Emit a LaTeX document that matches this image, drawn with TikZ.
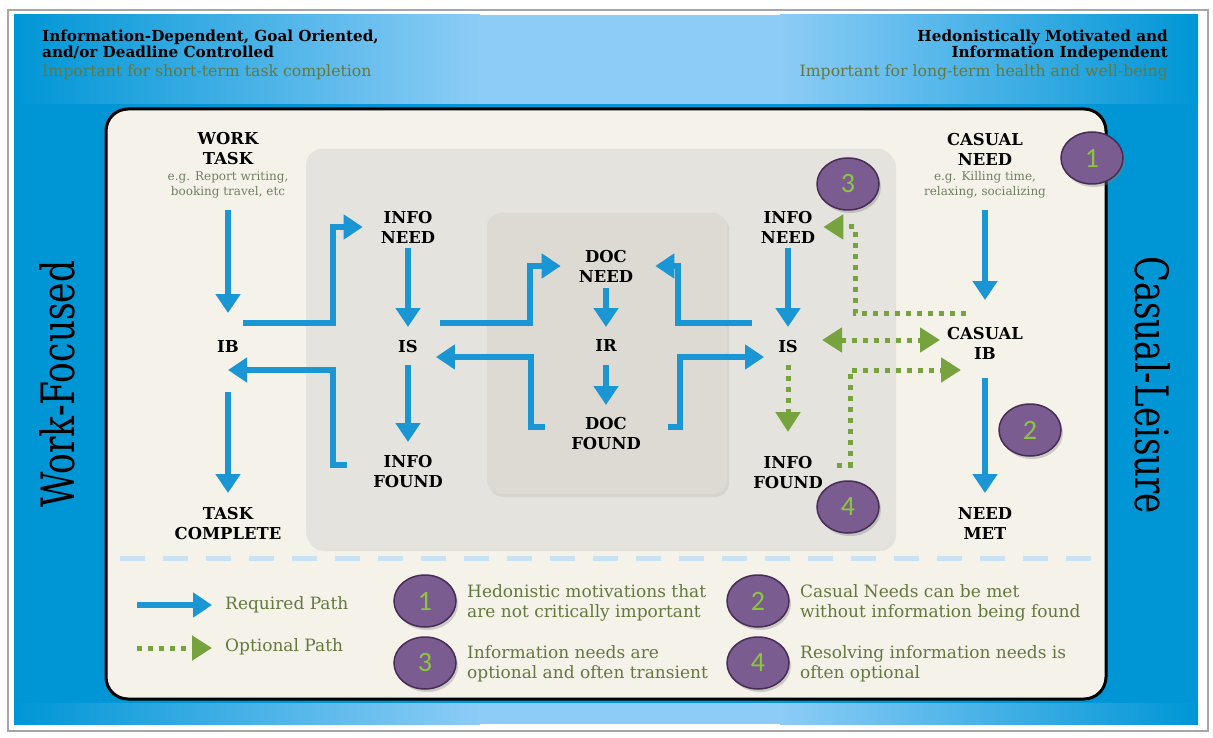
\documentclass[tikz,border=0pt]{standalone}
\usepackage{fontspec}
\setmainfont{DejaVu Serif}
\newfontfamily\digitfont{Carlito}
\usetikzlibrary{arrows.meta, shapes.geometric, shadows}
\definecolor{bandblue}{RGB}{0,150,214}
\definecolor{bandlight}{RGB}{140,204,246}
\definecolor{cream}{RGB}{245,242,234}
\definecolor{panelgray}{RGB}{229,227,221}
\definecolor{innergray}{RGB}{220,218,211}
\definecolor{reqblue}{RGB}{27,150,212}
\definecolor{optgreen}{RGB}{118,163,62}
\definecolor{keygreen}{RGB}{100,120,62}
\definecolor{egtext}{RGB}{110,128,96}
\definecolor{badgefill}{RGB}{123,92,145}
\definecolor{badgeedge}{RGB}{70,45,85}
\definecolor{digitgreen}{RGB}{140,198,63}
\definecolor{dashblue}{RGB}{200,225,243}
\tikzset{
  reqtip/.tip={Triangle[length=19pt,width=24pt]},
  optip/.tip={Triangle[length=20pt,width=24pt]},
  lbl/.style={font=\bfseries\fontsize{16.4}{20}\selectfont, align=center, inner sep=0pt},
  eg/.style={font=\fontsize{12}{15}\selectfont, text=egtext, align=center, inner sep=0pt},
  req/.style={draw=reqblue, line width=6pt, line join=miter, -reqtip},
  opt/.style={draw=optgreen, line width=5pt, dash pattern=on 5pt off 6pt, line join=miter, -optip},
  badge/.style={ellipse, fill=badgefill, draw=badgeedge, line width=1.5pt, minimum width=62pt,
    minimum height=52pt, inner sep=0pt, text=digitgreen, font=\digitfont\fontsize{28}{28}\selectfont,
    drop shadow={opacity=0.35, shadow xshift=2pt, shadow yshift=-3pt}},
  key/.style={font=\fontsize{17}{20}\selectfont, text=keygreen, anchor=west, align=left, inner sep=0pt},
  head/.style={font=\bfseries\fontsize{15.2}{16}\selectfont, inner sep=0pt},
  subhead/.style={font=\fontsize{15.7}{16}\selectfont, text=keygreen, inner sep=0pt},
  side/.style={font=\fontsize{46}{46}\selectfont, inner sep=0pt},
  toblue/.style={left color=bandlight, right color=bandblue},
  fromblue/.style={left color=bandblue, right color=bandlight}
}
\begin{document}
\begin{tikzpicture}[x=1pt, y=-1pt]
    \useasboundingbox (0,0) rectangle (1213,738);
    \fill[white] (0,0) rectangle (1213,738);
    \draw[black!35, line width=1.5pt] (8,10) rectangle (1208,731);
    \fill[bandblue] (14,15) rectangle (1198,724);
    \shade[fromblue] (14,15) rectangle (480,104);
    \fill[bandlight] (479,15) rectangle (781,104);
    \shade[toblue] (780,15) rectangle (1198,104);
    \shade[fromblue] (14,703) rectangle (480,724);
    \fill[bandlight] (479,703) rectangle (781,724);
    \shade[toblue] (780,703) rectangle (1198,724);
    \filldraw[fill=cream, draw=black, line width=3pt, rounded corners=22pt] (106,109) rectangle (1106,699);
    \fill[panelgray, rounded corners=16pt, drop shadow={opacity=0.15, shadow xshift=2pt, shadow yshift=-3pt}] (306,149) rectangle (894,548);
    \fill[innergray, rounded corners=14pt, drop shadow={opacity=0.15, shadow xshift=2pt, shadow yshift=-3pt}] (487,213) rectangle (727,494);
    \draw[dashblue, line width=5pt, dash pattern=on 25pt off 18pt] (120,558) -- (1095,558);

    \node[head, anchor=base west] (headL1) at (42,42) {Information-Dependent, Goal Oriented,};
    \node[head, anchor=base west] (headL2) at (42,58) {and/or Deadline Controlled};
    \node[subhead, anchor=base west] (subL) at (42,77) {Important for short-term task completion};
    \node[head, anchor=base east] (headR1) at (1168,42) {Hedonistically Motivated and};
    \node[head, anchor=base east] (headR2) at (1168,58) {Information Independent};
    \node[subhead, anchor=base east] (subR) at (1168,77) {Important for long-term health and well-being};

    \node[side, rotate=90] (workside) at (57,384) {\scalebox{0.75}[1]{Work-Focused}};
    \node[side, rotate=-90] (casualside) at (1153,385) {\scalebox{0.74}[1]{Casual-Leisure}};

    \node[lbl] (worktask) at (228,149) {WORK\\TASK};
    \node[eg] (worktaskeg) at (228,185) {e.g. Report writing,\\booking travel, etc};
    \node[lbl] (ib) at (228,347) {IB};
    \node[lbl] (taskdone) at (228,524) {TASK\\COMPLETE};
    \node[lbl] (infoneedL) at (408,227) {INFO\\NEED};
    \node[lbl] (isL) at (408,347) {IS};
    \node[lbl] (infofoundL) at (408,472) {INFO\\FOUND};
    \node[lbl] (docneed) at (606,266) {DOC\\NEED};
    \node[lbl] (ir) at (606,346) {IR};
    \node[lbl] (docfound) at (606,434) {DOC\\FOUND};
    \node[lbl] (infoneedR) at (788,227) {INFO\\NEED};
    \node[lbl] (isR) at (788,347) {IS};
    \node[lbl] (infofoundR) at (788,473) {INFO\\FOUND};
    \node[lbl] (casualneed) at (985,149) {CASUAL\\NEED};
    \node[eg] (casualneedeg) at (985,185) {e.g. Killing time,\\relaxing, socializing};
    \node[lbl] (casualib) at (985,343) {CASUAL\\IB};
    \node[lbl] (needmet) at (985,524) {NEED\\MET};

    \draw[req] (worktask |- 0,210) -- (ib |- 0,313);
    \draw[req] (ib |- 0,392) -- (taskdone |- 0,493);
    \draw[req] (243,323) -- (333,323) |- ([xshift=-18pt]infoneedL.west);
    \draw[req] (infoneedL |- 0,248) -- (isL |- 0,327);
    \draw[req] (isL |- 0,365) -- (infofoundL |- 0,442);
    \draw[req] (347,465) -- (333,465) |- (ib |- 0,370);
    \draw[req] (440,323) -- (530,323) |- ([xshift=-18pt]docneed.west);
    \draw[req] (docneed |- 0,288) -- (ir |- 0,327);
    \draw[req] (ir |- 0,365) -- (docfound |- 0,405);
    \draw[req] (545,427) -- (531,427) |- ([shift={(18pt,-10pt)}]isL.east);
    \draw[req] (752,323) -- (678,323) |- ([xshift=22pt]docneed.east);
    \draw[req] (668,427) -- (680,427) |- ([shift={(-14pt,-10pt)}]isR.west);
    \draw[req] (infoneedR |- 0,248) -- (isR |- 0,327);
    \draw[req] (casualneed |- 0,210) -- (casualib |- 0,300);
    \draw[req] (casualib |- 0,378) -- (needmet |- 0,493);

    \draw[opt] (isR |- 0,365) -- (infofoundR |- 0,432);
    \draw[opt] (966,313) -- (855,313) |- ([xshift=8pt]infoneedR.east);
    \draw[opt, optip-optip] (822,340) -- (940,340);
    \draw[opt] (837,465) -- (850,465) |- (961,370);

    \node[badge] (b1) at (1092,158) {1};
    \node[badge] (b3) at (848,184) {3};
    \node[badge] (b2) at (1030,430) {2};
    \node[badge] (b4) at (848,507) {4};

    \coordinate (reqstart) at (137,605);
    \coordinate (reqend) at (212,605);
    \draw[req] (reqstart) -- (reqend);
    \node[key] (reqkey) at (225,605) {Required Path};
    \coordinate (optstart) at (137,648);
    \coordinate (optend) at (212,648);
    \draw[opt] (optstart) -- (optend);
    \node[key] (optkey) at (225,647) {Optional Path};

    \node[badge] (k1) at (425,601) {1};
    \node[key] (k1text) at (467,603) {Hedonistic motivations that\\are not critically important};
    \node[badge] (k3) at (425,663) {3};
    \node[key] (k3text) at (467,664) {Information needs are\\optional and often transient};
    \node[badge] (k2) at (758,601) {2};
    \node[key] (k2text) at (800,603) {Casual Needs can be met\\without information being found};
    \node[badge] (k4) at (758,663) {4};
    \node[key] (k4text) at (800,664) {Resolving information needs is\\often optional};
\end{tikzpicture}
\end{document}
